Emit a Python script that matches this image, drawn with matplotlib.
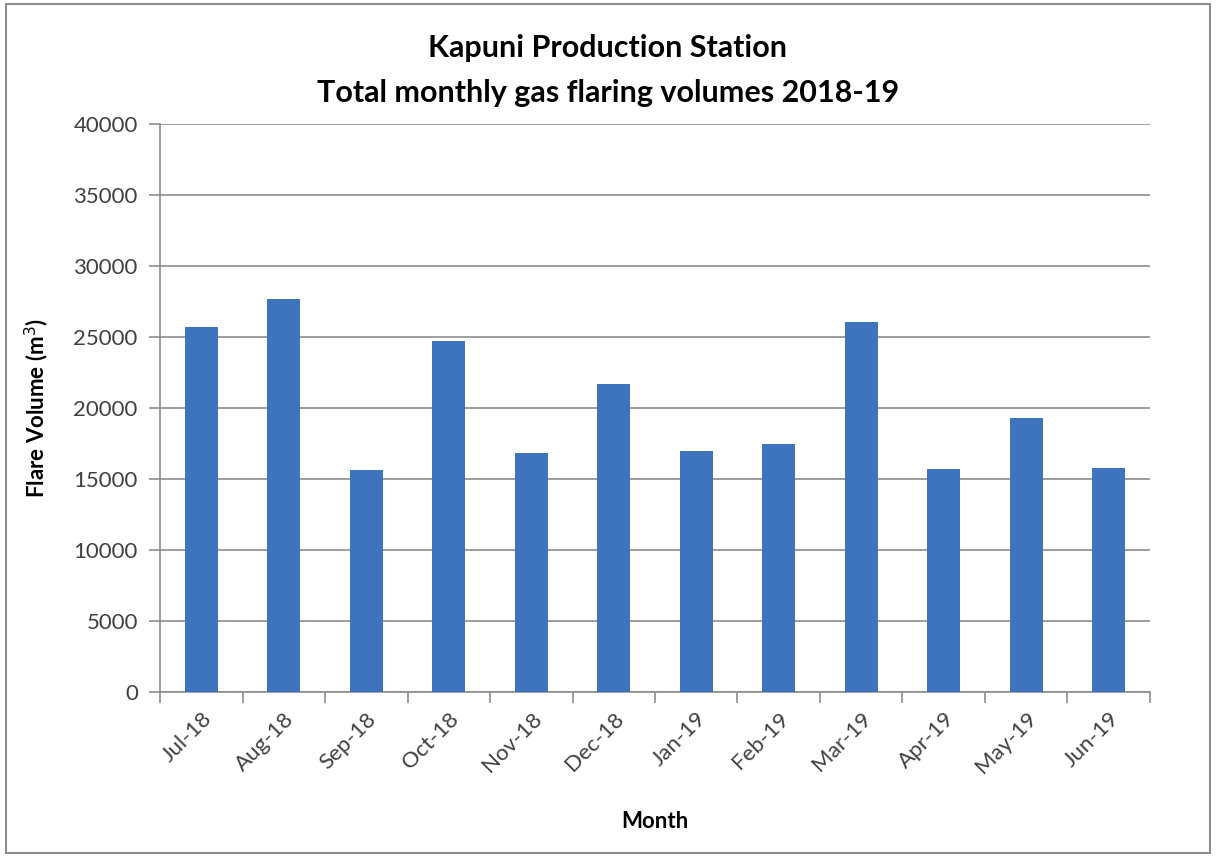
import matplotlib.pyplot as plt
import matplotlib.patches as mpatches
import numpy as np

months = ['Jul-18', 'Aug-18', 'Sep-18', 'Oct-18', 'Nov-18', 'Dec-18',
          'Jan-19', 'Feb-19', 'Mar-19', 'Apr-19', 'May-19', 'Jun-19']
volumes = [25700, 27680, 15600, 24720, 16800, 21690,
           16990, 17450, 26030, 15700, 19300, 15800]
y_ticks = [0, 5000, 10000, 15000, 20000, 25000, 30000, 35000, 40000]

plt.rcParams['font.family'] = ['Lato', 'DejaVu Sans']

fig = plt.figure(figsize=(12.16, 8.57), dpi=100)
ax = fig.add_axes([0.1316, 0.1925, 0.8141, 0.6628])

x = np.arange(len(months))
ax.bar(x, volumes, width=0.4, color='#3d74bd', zorder=3)

ax.set_xlim(-0.5, len(months) - 0.5)
ax.set_ylim(0, 40000)
ax.set_yticks(y_ticks)
ax.set_yticklabels([str(v) for v in y_ticks], fontsize=16, color='#404040')
ax.yaxis.grid(True, color='#8c8c8c', linewidth=1.2, zorder=0)

# category labels at centers, tick marks between categories
ax.set_xticks(x)
ax.set_xticklabels(months, rotation=45, ha='right', rotation_mode='anchor',
                   fontsize=16, color='#404040')
ax.tick_params(axis='x', length=0, pad=12)
ax.set_xticks(np.arange(len(months) + 1) - 0.5, minor=True)
ax.tick_params(axis='x', which='minor', length=8, color='#8c8c8c', width=1.2)
ax.tick_params(axis='y', length=8, color='#8c8c8c', width=1.2, pad=8)

for s in ['top', 'right']:
    ax.spines[s].set_visible(False)
for s in ['left', 'bottom']:
    ax.spines[s].set_color('#8c8c8c')
    ax.spines[s].set_linewidth(1.2)

ax.set_ylabel('Flare Volume (m$^3$)', fontsize=16, fontweight='bold')
ax.set_xlabel('Month', fontsize=16, fontweight='bold')
ax.yaxis.set_label_coords(-0.11, 0.5)
ax.xaxis.set_label_coords(0.5, -0.21)

fig.text(0.5, 0.944, 'Kapuni Production Station', ha='center', va='center',
         fontsize=22, fontweight='bold')
fig.text(0.5, 0.891, 'Total monthly gas flaring volumes 2018-19', ha='center',
         va='center', fontsize=22, fontweight='bold')

# outer frame
fig.patches.append(mpatches.Rectangle((0.005, 0.005), 0.99, 0.99, transform=fig.transFigure,
                                      fill=False, edgecolor='#8c8c8c', linewidth=1.5))

fig.savefig('out.png', dpi=100)
